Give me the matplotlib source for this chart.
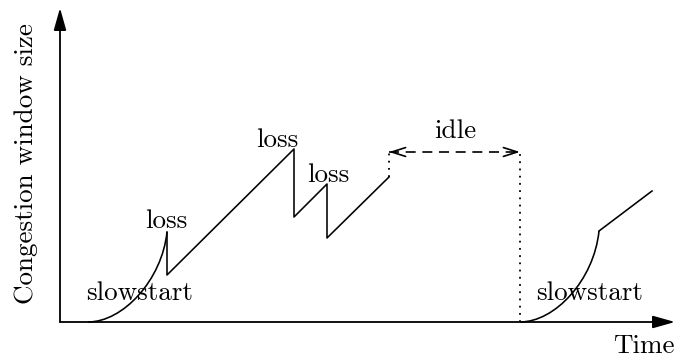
import numpy as np
import matplotlib.pyplot as plt
from matplotlib.path import Path
from matplotlib.patches import PathPatch

plt.rcParams['font.family'] = ['cmr10', 'DejaVu Serif']

# schematic values, origin at the axis corner (time, window)
ss1_t = [28, 63, 102, 107]      # bezier control points of first slow start
ss1_w = [0, 0, 42, 90]
saw_t = [107, 107, 234, 234, 267, 267, 329]
saw_w = [90, 47, 173, 105, 138, 84, 145]
idle_t = [329, 460]
idle_w = 170
ss2_t = [460, 495, 534, 539]
ss2_w = [0, 0, 42, 91]
tail_t = [539, 592]
tail_w = [91, 131]

loss_t = [106, 217, 268]
loss_w = [94, 175, 140]

fig = plt.figure(figsize=(6.77, 3.58), dpi=100)
ax = fig.add_axes([0, 0, 1, 1])
ax.set_xlim(-60, 617)
ax.set_ylim(-36, 322)
ax.axis('off')

lw = 1.15
# axes with arrows
axprops = dict(arrowstyle='-|>,head_length=1.35,head_width=0.38', color='black',
               lw=1.3, shrinkA=0, shrinkB=0)
ax.annotate('', xy=(615, 0), xytext=(0, 0), arrowprops=axprops)
ax.annotate('', xy=(0, 314), xytext=(0, 0), arrowprops=axprops)

# slow start curves
codes = [Path.MOVETO, Path.CURVE4, Path.CURVE4, Path.CURVE4]
for tt, ww in [(ss1_t, ss1_w), (ss2_t, ss2_w)]:
    p = Path(np.column_stack([tt, ww]), codes)
    ax.add_patch(PathPatch(p, fill=False, lw=lw, color='black'))

ax.plot(saw_t, saw_w, color='black', lw=lw)
ax.plot(tail_t, tail_w, color='black', lw=lw)

# idle period
dot = (0, (1, 3))
ax.plot([idle_t[0], idle_t[0]], [saw_w[-1], idle_w], color='black', lw=1.3, linestyle=dot)
ax.plot([idle_t[1], idle_t[1]], [0, idle_w], color='black', lw=1.3, linestyle=dot)
ax.plot(idle_t, [idle_w, idle_w], color='black', lw=1.2, linestyle=(0, (6, 4)))
hprops = dict(arrowstyle='->,head_length=1.0,head_width=0.32', color='black',
              lw=1.2, shrinkA=0, shrinkB=0)
ax.annotate('', xy=(idle_t[0], idle_w), xytext=(idle_t[0] + 6, idle_w), arrowprops=hprops)
ax.annotate('', xy=(idle_t[1], idle_w), xytext=(idle_t[1] - 6, idle_w), arrowprops=hprops)

fs = 19.5
for t, w in zip(loss_t, loss_w):
    ax.text(t, w, 'loss', fontsize=fs, ha='center', va='baseline')
ax.text(80, 22, 'slowstart', fontsize=fs, ha='center', va='baseline')
ax.text(530, 22, 'slowstart', fontsize=fs, ha='center', va='baseline')
ax.text(395, 184, 'idle', fontsize=fs, ha='center', va='baseline')
ax.text(615, -31, 'Time', fontsize=fs, ha='right', va='baseline')
ax.text(-34, 158, 'Congestion window size', fontsize=fs, rotation=90,
        ha='center', va='center')

plt.savefig('out.png', dpi=100)
